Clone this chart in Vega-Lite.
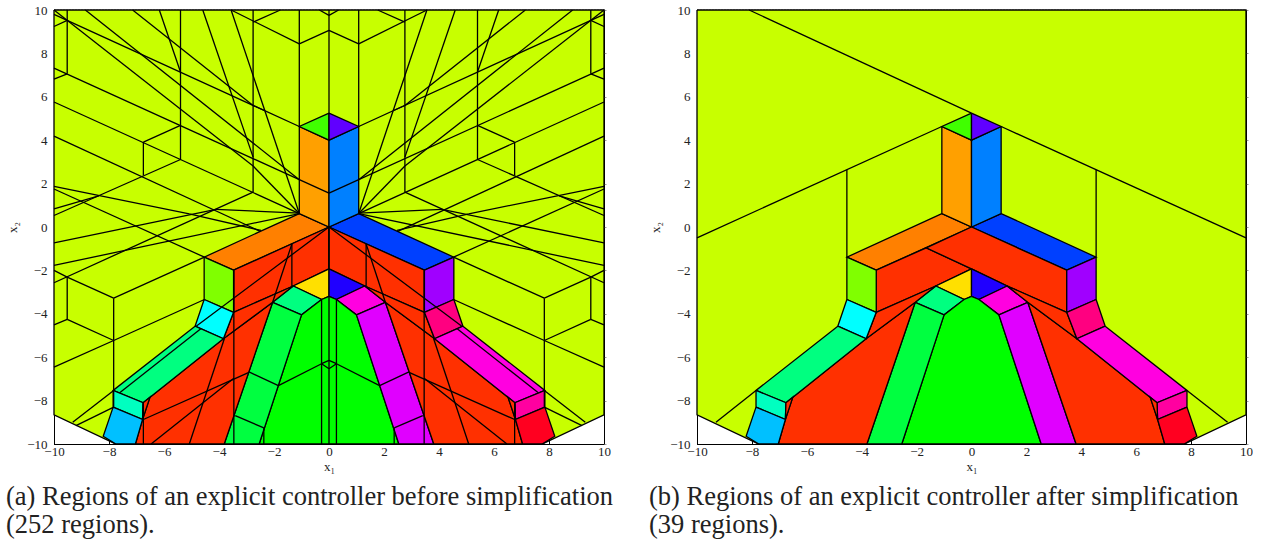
{"$schema":"https://vega.github.io/schema/vega-lite/v6.json","background":"white","padding":{"left":5,"top":3,"right":0,"bottom":0},"spacing":34,
"datasets":{"polys":[
{"p":"ab","r":"bg","i":0,"x":-10,"y":10},{"p":"ab","r":"bg","i":1,"x":10,"y":10},{"p":"ab","r":"bg","i":2,"x":10,"y":-8.66},{"p":"ab","r":"bg","i":3,"x":7.75,"y":-10},{"p":"ab","r":"bg","i":4,"x":-7.75,"y":-10},{"p":"ab","r":"bg","i":5,"x":-10,"y":-8.66},{"p":"ab","r":"bg","i":6,"x":-10,"y":10},
{"p":"ab","r":"orangeBar","i":0,"x":-1.08,"y":0.62},{"p":"ab","r":"orangeBar","i":1,"x":-4.54,"y":-1.39},{"p":"ab","r":"orangeBar","i":2,"x":-3.47,"y":-1.99},{"p":"ab","r":"orangeBar","i":3,"x":0,"y":0},{"p":"ab","r":"orangeBar","i":4,"x":-1.08,"y":0.62},
{"p":"ab","r":"blueBar","i":0,"x":1.08,"y":0.62},{"p":"ab","r":"blueBar","i":1,"x":4.54,"y":-1.39},{"p":"ab","r":"blueBar","i":2,"x":3.47,"y":-1.99},{"p":"ab","r":"blueBar","i":3,"x":0,"y":0},{"p":"ab","r":"blueBar","i":4,"x":1.08,"y":0.62},
{"p":"ab","r":"orangeUp","i":0,"x":-1.08,"y":4.63},{"p":"ab","r":"orangeUp","i":1,"x":0,"y":4},{"p":"ab","r":"orangeUp","i":2,"x":0,"y":0},{"p":"ab","r":"orangeUp","i":3,"x":-1.08,"y":0.62},{"p":"ab","r":"orangeUp","i":4,"x":-1.08,"y":4.63},
{"p":"ab","r":"blueUp","i":0,"x":1.08,"y":4.63},{"p":"ab","r":"blueUp","i":1,"x":0,"y":4},{"p":"ab","r":"blueUp","i":2,"x":0,"y":0},{"p":"ab","r":"blueUp","i":3,"x":1.08,"y":0.62},{"p":"ab","r":"blueUp","i":4,"x":1.08,"y":4.63},
{"p":"ab","r":"greenTri","i":0,"x":0,"y":5.25},{"p":"ab","r":"greenTri","i":1,"x":-1.08,"y":4.63},{"p":"ab","r":"greenTri","i":2,"x":0,"y":4},{"p":"ab","r":"greenTri","i":3,"x":0,"y":5.25},
{"p":"ab","r":"violetTri","i":0,"x":0,"y":5.25},{"p":"ab","r":"violetTri","i":1,"x":1.08,"y":4.63},{"p":"ab","r":"violetTri","i":2,"x":0,"y":4},{"p":"ab","r":"violetTri","i":3,"x":0,"y":5.25},
{"p":"a","r":"redLa","i":0,"x":0,"y":0},{"p":"a","r":"redLa","i":1,"x":-3.47,"y":-1.99},{"p":"a","r":"redLa","i":2,"x":-3.47,"y":-3.93},{"p":"a","r":"redLa","i":3,"x":-1.3,"y":-2.72},{"p":"a","r":"redLa","i":4,"x":0,"y":-1.93},{"p":"a","r":"redLa","i":5,"x":0,"y":0},
{"p":"a","r":"redRa","i":0,"x":0,"y":0},{"p":"a","r":"redRa","i":1,"x":3.47,"y":-1.99},{"p":"a","r":"redRa","i":2,"x":3.47,"y":-3.93},{"p":"a","r":"redRa","i":3,"x":1.3,"y":-2.72},{"p":"a","r":"redRa","i":4,"x":0,"y":-1.93},{"p":"a","r":"redRa","i":5,"x":0,"y":0},
{"p":"b","r":"redLb","i":0,"x":-3.47,"y":-1.99},{"p":"b","r":"redLb","i":1,"x":-1.65,"y":-0.96},{"p":"b","r":"redLb","i":2,"x":0,"y":-1.93},{"p":"b","r":"redLb","i":3,"x":-1.3,"y":-2.72},{"p":"b","r":"redLb","i":4,"x":-3.47,"y":-3.93},{"p":"b","r":"redLb","i":5,"x":-3.47,"y":-1.99},
{"p":"b","r":"redRb","i":0,"x":0,"y":0},{"p":"b","r":"redRb","i":1,"x":3.47,"y":-1.99},{"p":"b","r":"redRb","i":2,"x":3.47,"y":-3.93},{"p":"b","r":"redRb","i":3,"x":1.3,"y":-2.72},{"p":"b","r":"redRb","i":4,"x":0,"y":-1.93},{"p":"b","r":"redRb","i":5,"x":-1.65,"y":-0.96},{"p":"b","r":"redRb","i":6,"x":0,"y":0},
{"p":"ab","r":"yellow","i":0,"x":0,"y":-1.93},{"p":"ab","r":"yellow","i":1,"x":0,"y":-3.2},{"p":"ab","r":"yellow","i":2,"x":-0.27,"y":-3.34},{"p":"ab","r":"yellow","i":3,"x":-1.3,"y":-2.72},{"p":"ab","r":"yellow","i":4,"x":0,"y":-1.93},
{"p":"ab","r":"darkBlue","i":0,"x":0,"y":-1.93},{"p":"ab","r":"darkBlue","i":1,"x":0,"y":-3.2},{"p":"ab","r":"darkBlue","i":2,"x":0.27,"y":-3.34},{"p":"ab","r":"darkBlue","i":3,"x":1.3,"y":-2.72},{"p":"ab","r":"darkBlue","i":4,"x":0,"y":-1.93},
{"p":"ab","r":"capL","i":0,"x":-1.3,"y":-2.72},{"p":"ab","r":"capL","i":1,"x":-0.27,"y":-3.34},{"p":"ab","r":"capL","i":2,"x":-1,"y":-4.05},{"p":"ab","r":"capL","i":3,"x":-2.05,"y":-3.47},{"p":"ab","r":"capL","i":4,"x":-1.3,"y":-2.72},
{"p":"ab","r":"capR","i":0,"x":1.3,"y":-2.72},{"p":"ab","r":"capR","i":1,"x":0.27,"y":-3.34},{"p":"ab","r":"capR","i":2,"x":1,"y":-4.05},{"p":"ab","r":"capR","i":3,"x":2.05,"y":-3.47},{"p":"ab","r":"capR","i":4,"x":1.3,"y":-2.72},
{"p":"ab","r":"greenC","i":0,"x":0,"y":-3.2},{"p":"ab","r":"greenC","i":1,"x":-0.27,"y":-3.34},{"p":"ab","r":"greenC","i":2,"x":-1,"y":-4.05},{"p":"ab","r":"greenC","i":3,"x":-2.54,"y":-10},{"p":"ab","r":"greenC","i":4,"x":2.54,"y":-10},{"p":"ab","r":"greenC","i":5,"x":1,"y":-4.05},{"p":"ab","r":"greenC","i":6,"x":0.27,"y":-3.34},{"p":"ab","r":"greenC","i":7,"x":0,"y":-3.2},
{"p":"ab","r":"barG","i":0,"x":-2.05,"y":-3.47},{"p":"ab","r":"barG","i":1,"x":-1,"y":-4.05},{"p":"ab","r":"barG","i":2,"x":-2.54,"y":-10},{"p":"ab","r":"barG","i":3,"x":-3.81,"y":-10},{"p":"ab","r":"barG","i":4,"x":-2.05,"y":-3.47},
{"p":"ab","r":"barP","i":0,"x":2.05,"y":-3.47},{"p":"ab","r":"barP","i":1,"x":1,"y":-4.05},{"p":"ab","r":"barP","i":2,"x":2.54,"y":-10},{"p":"ab","r":"barP","i":3,"x":3.81,"y":-10},{"p":"ab","r":"barP","i":4,"x":2.05,"y":-3.47},
{"p":"ab","r":"redBL","i":0,"x":-2.05,"y":-3.47},{"p":"ab","r":"redBL","i":1,"x":-3.81,"y":-10},{"p":"ab","r":"redBL","i":2,"x":-7.04,"y":-10},{"p":"ab","r":"redBL","i":3,"x":-6.78,"y":-8.87},{"p":"ab","r":"redBL","i":4,"x":-6.51,"y":-7.84},{"p":"ab","r":"redBL","i":5,"x":-3.84,"y":-5.15},{"p":"ab","r":"redBL","i":6,"x":-2.05,"y":-3.47},
{"p":"ab","r":"redBR","i":0,"x":2.05,"y":-3.47},{"p":"ab","r":"redBR","i":1,"x":3.81,"y":-10},{"p":"ab","r":"redBR","i":2,"x":7.04,"y":-10},{"p":"ab","r":"redBR","i":3,"x":6.78,"y":-8.87},{"p":"ab","r":"redBR","i":4,"x":6.51,"y":-7.84},{"p":"ab","r":"redBR","i":5,"x":3.84,"y":-5.15},{"p":"ab","r":"redBR","i":6,"x":2.05,"y":-3.47},
{"p":"ab","r":"redTL","i":0,"x":-3.47,"y":-3.93},{"p":"ab","r":"redTL","i":1,"x":-1.3,"y":-2.72},{"p":"ab","r":"redTL","i":2,"x":-2.05,"y":-3.47},{"p":"ab","r":"redTL","i":3,"x":-3.84,"y":-5.15},{"p":"ab","r":"redTL","i":4,"x":-3.47,"y":-3.93},
{"p":"ab","r":"redTR","i":0,"x":3.47,"y":-3.93},{"p":"ab","r":"redTR","i":1,"x":1.3,"y":-2.72},{"p":"ab","r":"redTR","i":2,"x":2.05,"y":-3.47},{"p":"ab","r":"redTR","i":3,"x":3.84,"y":-5.15},{"p":"ab","r":"redTR","i":4,"x":3.47,"y":-3.93},
{"p":"ab","r":"limeBar","i":0,"x":-4.54,"y":-1.39},{"p":"ab","r":"limeBar","i":1,"x":-3.47,"y":-1.99},{"p":"ab","r":"limeBar","i":2,"x":-3.47,"y":-3.93},{"p":"ab","r":"limeBar","i":3,"x":-4.54,"y":-3.34},{"p":"ab","r":"limeBar","i":4,"x":-4.54,"y":-1.39},
{"p":"ab","r":"purpleBar","i":0,"x":4.54,"y":-1.39},{"p":"ab","r":"purpleBar","i":1,"x":3.47,"y":-1.99},{"p":"ab","r":"purpleBar","i":2,"x":3.47,"y":-3.93},{"p":"ab","r":"purpleBar","i":3,"x":4.54,"y":-3.34},{"p":"ab","r":"purpleBar","i":4,"x":4.54,"y":-1.39},
{"p":"ab","r":"cyan","i":0,"x":-4.54,"y":-3.34},{"p":"ab","r":"cyan","i":1,"x":-3.47,"y":-3.93},{"p":"ab","r":"cyan","i":2,"x":-3.84,"y":-5.15},{"p":"ab","r":"cyan","i":3,"x":-4.87,"y":-4.57},{"p":"ab","r":"cyan","i":4,"x":-4.54,"y":-3.34},
{"p":"ab","r":"pink","i":0,"x":4.54,"y":-3.34},{"p":"ab","r":"pink","i":1,"x":3.47,"y":-3.93},{"p":"ab","r":"pink","i":2,"x":3.84,"y":-5.15},{"p":"ab","r":"pink","i":3,"x":4.87,"y":-4.57},{"p":"ab","r":"pink","i":4,"x":4.54,"y":-3.34},
{"p":"ab","r":"tealBar","i":0,"x":-4.87,"y":-4.57},{"p":"ab","r":"tealBar","i":1,"x":-3.84,"y":-5.15},{"p":"ab","r":"tealBar","i":2,"x":-6.76,"y":-8.1},{"p":"ab","r":"tealBar","i":3,"x":-7.85,"y":-7.53},{"p":"ab","r":"tealBar","i":4,"x":-4.87,"y":-4.57},
{"p":"ab","r":"magBar","i":0,"x":4.87,"y":-4.57},{"p":"ab","r":"magBar","i":1,"x":3.84,"y":-5.15},{"p":"ab","r":"magBar","i":2,"x":6.76,"y":-8.1},{"p":"ab","r":"magBar","i":3,"x":7.85,"y":-7.53},{"p":"ab","r":"magBar","i":4,"x":4.87,"y":-4.57},
{"p":"ab","r":"tealS","i":0,"x":-7.85,"y":-7.53},{"p":"ab","r":"tealS","i":1,"x":-6.76,"y":-8.1},{"p":"ab","r":"tealS","i":2,"x":-6.78,"y":-8.87},{"p":"ab","r":"tealS","i":3,"x":-7.85,"y":-8.3},{"p":"ab","r":"tealS","i":4,"x":-7.85,"y":-7.53},
{"p":"ab","r":"pinkS","i":0,"x":7.85,"y":-7.53},{"p":"ab","r":"pinkS","i":1,"x":6.76,"y":-8.1},{"p":"ab","r":"pinkS","i":2,"x":6.78,"y":-8.87},{"p":"ab","r":"pinkS","i":3,"x":7.85,"y":-8.3},{"p":"ab","r":"pinkS","i":4,"x":7.85,"y":-7.53},
{"p":"ab","r":"sky","i":0,"x":-7.85,"y":-8.3},{"p":"ab","r":"sky","i":1,"x":-6.78,"y":-8.87},{"p":"ab","r":"sky","i":2,"x":-7.04,"y":-10},{"p":"ab","r":"sky","i":3,"x":-7.75,"y":-10},{"p":"ab","r":"sky","i":4,"x":-8.21,"y":-9.64},{"p":"ab","r":"sky","i":5,"x":-7.85,"y":-8.3},
{"p":"ab","r":"redS","i":0,"x":7.85,"y":-8.3},{"p":"ab","r":"redS","i":1,"x":6.78,"y":-8.87},{"p":"ab","r":"redS","i":2,"x":7.04,"y":-10},{"p":"ab","r":"redS","i":3,"x":7.75,"y":-10},{"p":"ab","r":"redS","i":4,"x":8.21,"y":-9.64},{"p":"ab","r":"redS","i":5,"x":7.85,"y":-8.3},
{"p":"ab","r":"sliverL","i":0,"x":-6.76,"y":-8.1},{"p":"ab","r":"sliverL","i":1,"x":-6.51,"y":-7.84},{"p":"ab","r":"sliverL","i":2,"x":-6.78,"y":-8.87},{"p":"ab","r":"sliverL","i":3,"x":-6.76,"y":-8.1},
{"p":"ab","r":"sliverR","i":0,"x":6.76,"y":-8.1},{"p":"ab","r":"sliverR","i":1,"x":6.51,"y":-7.84},{"p":"ab","r":"sliverR","i":2,"x":6.78,"y":-8.87},{"p":"ab","r":"sliverR","i":3,"x":6.76,"y":-8.1}
],
"linesA":[
{"x":0,"y":10,"x2":0,"y2":5.25},{"x":0,"y":0,"x2":0,"y2":-1.93},{"x":0,"y":-3.2,"x2":0,"y2":-10},
{"x":-9.52,"y":10,"x2":-9.52,"y2":7.06},{"x":9.52,"y":10,"x2":9.52,"y2":7.06},
{"x":-5.4,"y":10,"x2":-5.4,"y2":3.11},{"x":5.4,"y":10,"x2":5.4,"y2":3.11},
{"x":-2.76,"y":10,"x2":-2.76,"y2":1.61},{"x":2.76,"y":10,"x2":2.76,"y2":1.61},
{"x":-1.08,"y":10,"x2":-1.08,"y2":4.63},{"x":1.08,"y":10,"x2":1.08,"y2":4.63},
{"x":-6.75,"y":3.91,"x2":-6.75,"y2":2.38},{"x":6.75,"y":3.91,"x2":6.75,"y2":2.38},
{"x":-10,"y":5.76,"x2":-1.08,"y2":0.62},{"x":10,"y":5.76,"x2":1.08,"y2":0.62},
{"x":-10,"y":4.19,"x2":-2.5,"y2":-0.2},{"x":10,"y":4.19,"x2":2.5,"y2":-0.2},
{"x":-10,"y":7.32,"x2":0,"y2":1.56},{"x":10,"y":7.32,"x2":0,"y2":1.56},
{"x":-10,"y":6.81,"x2":-9.52,"y2":7.06},{"x":10,"y":6.81,"x2":9.52,"y2":7.06},
{"x":-6.75,"y":3.91,"x2":-5.4,"y2":4.68},{"x":6.75,"y":3.91,"x2":5.4,"y2":4.68},
{"x":-10,"y":0.53,"x2":-5.4,"y2":3.11},{"x":10,"y":0.53,"x2":5.4,"y2":3.11},
{"x":-10,"y":0.84,"x2":-8.37,"y2":1.44},{"x":10,"y":0.84,"x2":8.37,"y2":1.44},
{"x":-10,"y":-2.57,"x2":-2.76,"y2":1.61},{"x":10,"y":-2.57,"x2":2.76,"y2":1.61},
{"x":-9.52,"y":-2.31,"x2":-7.83,"y2":-3.28},{"x":9.52,"y":-2.31,"x2":7.83,"y2":-3.28},
{"x":-7.83,"y":-3.28,"x2":-4.53,"y2":-1.39},{"x":7.83,"y":-3.28,"x2":4.53,"y2":-1.39},
{"x":-9.52,"y":-2.31,"x2":-9.52,"y2":-4.26},{"x":9.52,"y":-2.31,"x2":9.52,"y2":-4.26},
{"x":-10,"y":-4.51,"x2":-9.52,"y2":-4.26},{"x":10,"y":-4.51,"x2":9.52,"y2":-4.26},
{"x":-9.52,"y":-4.26,"x2":-7.83,"y2":-5.23},{"x":9.52,"y":-4.26,"x2":7.83,"y2":-5.23},
{"x":-7.83,"y":-5.23,"x2":-4.53,"y2":-3.34},{"x":7.83,"y":-5.23,"x2":4.53,"y2":-3.34},
{"x":-10,"y":-6.46,"x2":-7.83,"y2":-5.23},{"x":10,"y":-6.46,"x2":7.83,"y2":-5.23},
{"x":-7.83,"y":-3.28,"x2":-7.83,"y2":-8.3},{"x":7.83,"y":-3.28,"x2":7.83,"y2":-8.3},
{"x":-10,"y":-2,"x2":-9.52,"y2":-2.31},{"x":10,"y":-2,"x2":9.52,"y2":-2.31},
{"x":-10,"y":1.87,"x2":-5.08,"y2":0.61},{"x":10,"y":1.87,"x2":5.08,"y2":0.61},
{"x":-5.08,"y":0.61,"x2":-2.47,"y2":-0.16},{"x":5.08,"y":0.61,"x2":2.47,"y2":-0.16},
{"x":-10,"y":1.75,"x2":-4.53,"y2":-1.39},{"x":10,"y":1.75,"x2":4.53,"y2":-1.39},
{"x":-1.08,"y":0.62,"x2":-10,"y2":-1.77},{"x":1.08,"y":0.62,"x2":10,"y2":-1.77},
{"x":-10,"y":-0.73,"x2":-4.11,"y2":0.81},{"x":10,"y":-0.73,"x2":4.11,"y2":0.81},
{"x":-4.11,"y":0.81,"x2":-1.08,"y2":0.64},{"x":4.11,"y":0.81,"x2":1.08,"y2":0.64},
{"x":-3.56,"y":10,"x2":-1.08,"y2":8.44},{"x":3.56,"y":10,"x2":1.08,"y2":8.44},
{"x":-1.08,"y":8.44,"x2":0,"y2":9.06},{"x":1.08,"y":8.44,"x2":0,"y2":9.06},
{"x":-2.76,"y":9.44,"x2":-1.77,"y2":10},{"x":2.76,"y":9.44,"x2":1.77,"y2":10},
{"x":-0.35,"y":10,"x2":0,"y2":9.75},{"x":0.35,"y":10,"x2":0,"y2":9.75},
{"x":-10,"y":9.8,"x2":-1.08,"y2":4.63},{"x":10,"y":9.8,"x2":1.08,"y2":4.63},
{"x":-10,"y":9.24,"x2":-9.52,"y2":9.52},{"x":10,"y":9.24,"x2":9.52,"y2":9.52},
{"x":-10,"y":10,"x2":-2.76,"y2":2.81},{"x":10,"y":10,"x2":2.76,"y2":2.81},
{"x":-2.76,"y":2.81,"x2":-1.08,"y2":0.62},{"x":2.76,"y":2.81,"x2":1.08,"y2":0.62},
{"x":-8.86,"y":10,"x2":-1.08,"y2":2.18},{"x":8.86,"y":10,"x2":1.08,"y2":2.18},
{"x":-7.14,"y":10,"x2":-2.76,"y2":5.6},{"x":7.14,"y":10,"x2":2.76,"y2":5.6},
{"x":-2.76,"y":5.6,"x2":-2.35,"y2":5.37},{"x":2.76,"y":5.6,"x2":2.35,"y2":5.37},
{"x":-6.17,"y":10,"x2":-5.4,"y2":7.14},{"x":6.17,"y":10,"x2":5.4,"y2":7.14},
{"x":-4.59,"y":10,"x2":-2.76,"y2":3.22},{"x":4.59,"y":10,"x2":2.76,"y2":3.22},
{"x":-3.56,"y":10,"x2":-1.08,"y2":0.62},{"x":3.56,"y":10,"x2":1.08,"y2":0.62},
{"x":-3.46,"y":-1.99,"x2":-3.46,"y2":-10},{"x":3.46,"y":-1.99,"x2":3.46,"y2":-10},
{"x":-1.35,"y":-0.78,"x2":-1.35,"y2":-2.74},{"x":1.35,"y":-0.78,"x2":1.35,"y2":-2.74},
{"x":-4.83,"y":-4.57,"x2":0,"y2":0},{"x":4.83,"y":-4.57,"x2":0,"y2":0},
{"x":-1.35,"y":-0.78,"x2":-2.05,"y2":-3.47},{"x":1.35,"y":-0.78,"x2":2.05,"y2":-3.47},
{"x":-3.8,"y":-5.13,"x2":-5.08,"y2":-10},{"x":3.8,"y":-5.13,"x2":5.08,"y2":-10},
{"x":-6.75,"y":-8.87,"x2":-2.89,"y2":-6.69},{"x":6.75,"y":-8.87,"x2":2.89,"y2":-6.69},
{"x":-3.46,"y":-6.97,"x2":-6.47,"y2":-10},{"x":3.46,"y":-6.97,"x2":6.47,"y2":-10},
{"x":-3.41,"y":-8.69,"x2":-2.37,"y2":-9.26},{"x":3.41,"y":-8.69,"x2":2.37,"y2":-9.26},
{"x":-2.37,"y":-9.26,"x2":-2.37,"y2":-10},{"x":2.37,"y":-9.26,"x2":2.37,"y2":-10},
{"x":-2.89,"y":-6.69,"x2":-1.84,"y2":-7.31},{"x":2.89,"y":-6.69,"x2":1.84,"y2":-7.31},
{"x":-1.84,"y":-7.31,"x2":-0.27,"y2":-6.3},{"x":1.84,"y":-7.31,"x2":0.27,"y2":-6.3},
{"x":-0.27,"y":-6.3,"x2":0,"y2":-6.15},{"x":0.27,"y":-6.3,"x2":0,"y2":-6.15},
{"x":-0.27,"y":-6.3,"x2":0,"y2":-6.53},{"x":0.27,"y":-6.3,"x2":0,"y2":-6.53},
{"x":-0.27,"y":-3.34,"x2":-0.27,"y2":-10},{"x":0.27,"y":-3.34,"x2":0.27,"y2":-10},
{"x":-6.75,"y":-8.1,"x2":-6.75,"y2":-10},{"x":6.75,"y":-8.1,"x2":6.75,"y2":-10},
{"x":-7.83,"y":-7.53,"x2":-9.32,"y2":-9},{"x":7.83,"y":-7.53,"x2":9.32,"y2":-9},
{"x":-7.83,"y":-8.3,"x2":-9.2,"y2":-9.15},{"x":7.83,"y":-8.3,"x2":9.2,"y2":-9.15},
{"x":-4.65,"y":-4.68,"x2":-7.6,"y2":-7.63},{"x":4.65,"y":-4.68,"x2":7.6,"y2":-7.63}
],
"linesB":[
{"x":-10,"y":-0.5,"x2":-1.08,"y2":4.63},{"x":10,"y":-0.5,"x2":1.08,"y2":4.63},
{"x":-8.1,"y":10,"x2":0,"y2":5.25},
{"x":-4.54,"y":-1.39,"x2":-4.54,"y2":2.64},{"x":4.54,"y":-1.39,"x2":4.54,"y2":2.64},
{"x":-9.31,"y":-9,"x2":-7.85,"y2":-7.53},{"x":9.33,"y":-9,"x2":7.85,"y2":-7.53}
]},
"hconcat":[
{"width":550,"height":434,
"title":{"text":["(a) Regions of an explicit controller before simplification","(252 regions)."],"orient":"bottom","anchor":"start","frame":"group","dx":-48,"offset":11,"font":"Liberation Serif","fontSize":26.5,"fontWeight":"normal","color":"#222","lineHeight":28},
"layer":[
{"data":{"name":"polys"},"transform":[{"filter":"datum.p!='b'"}],
"mark":{"type":"line","stroke":"#000","strokeWidth":1.3},
"encoding":{
"x":{"field":"x","type":"quantitative","scale":{"domain":[-10,10],"nice":false},"axis":{"values":[-10,-8,-6,-4,-2,0,2,4,6,8,10],"title":"x₁","grid":false,"tickSize":-4,"tickColor":"#000","domainColor":"#000","labelFlush":false,"labelFont":"Liberation Serif","labelFontSize":13,"labelColor":"#222","titleFont":"Liberation Serif","titleFontSize":13,"titleFontWeight":"normal","titleColor":"#222","labelPadding":5,"titlePadding":2}},
"y":{"field":"y","type":"quantitative","scale":{"domain":[-10,10],"nice":false},"axis":{"values":[-10,-8,-6,-4,-2,0,2,4,6,8,10],"title":"x₂","grid":false,"tickSize":-4,"tickColor":"#000","domainColor":"#000","labelFlush":false,"labelFont":"Liberation Serif","labelFontSize":13,"labelColor":"#222","titleFont":"Liberation Serif","titleFontSize":13,"titleFontWeight":"normal","titleColor":"#222","labelPadding":11,"titlePadding":7}},
"order":{"field":"i","type":"quantitative"},
"fill":{"field":"r","type":"nominal","legend":null,"scale":{"domain":["bg","orangeBar","blueBar","orangeUp","blueUp","greenTri","violetTri","redLa","redRa","redLb","redRb","yellow","darkBlue","capL","capR","greenC","barG","barP","redBL","redBR","redTL","redTR","limeBar","purpleBar","cyan","pink","tealBar","magBar","tealS","pinkS","sky","redS","sliverL","sliverR"],"range":["#c8ff00","#ff8000","#0040ff","#ffa000","#0080ff","#40ff00","#6000ff","#ff3000","#ff3000","#ff3000","#ff3000","#ffe000","#2000ff","#00ff80","#ff00e0","#00ff00","#00ff40","#e000ff","#ff3000","#ff3000","#ff3000","#ff3000","#80ff00","#a000ff","#00ffff","#ff0080","#00ff80","#ff00e0","#00ffc0","#ff00a0","#00c0ff","#ff0020","#ff3000","#ff3000"]}}
}},
{"data":{"name":"linesA"},"mark":{"type":"rule","stroke":"#000","strokeWidth":1.3},
"encoding":{"x":{"field":"x","type":"quantitative","axis":{"orient":"top","labels":false,"ticks":false,"title":null,"grid":false,"domainColor":"#999","domainDash":[1,2],"offset":1}},"y":{"field":"y","type":"quantitative","axis":{"orient":"right","labels":false,"title":null,"grid":false,"domain":false,"values":[-10,-8,-6,-4,-2,0,2,4,6,8,10],"tickSize":2,"tickColor":"#999"}},"x2":{"field":"x2"},"y2":{"field":"y2"}}}
],
"resolve":{"axis":{"x":"independent","y":"independent"}}},
{"width":549,"height":434,
"title":{"text":["(b) Regions of an explicit controller after simplification","(39 regions)."],"orient":"bottom","anchor":"start","frame":"group","dx":-48,"offset":11,"font":"Liberation Serif","fontSize":26.5,"fontWeight":"normal","color":"#222","lineHeight":28},
"layer":[
{"data":{"name":"polys"},"transform":[{"filter":"datum.p!='a'"}],
"mark":{"type":"line","stroke":"#000","strokeWidth":1.3},
"encoding":{
"x":{"field":"x","type":"quantitative","scale":{"domain":[-10,10],"nice":false},"axis":{"values":[-10,-8,-6,-4,-2,0,2,4,6,8,10],"title":"x₁","grid":false,"tickSize":-4,"tickColor":"#000","domainColor":"#000","labelFlush":false,"labelFont":"Liberation Serif","labelFontSize":13,"labelColor":"#222","titleFont":"Liberation Serif","titleFontSize":13,"titleFontWeight":"normal","titleColor":"#222","labelPadding":5,"titlePadding":2}},
"y":{"field":"y","type":"quantitative","scale":{"domain":[-10,10],"nice":false},"axis":{"values":[-10,-8,-6,-4,-2,0,2,4,6,8,10],"title":"x₂","grid":false,"tickSize":-4,"tickColor":"#000","domainColor":"#000","labelFlush":false,"labelFont":"Liberation Serif","labelFontSize":13,"labelColor":"#222","titleFont":"Liberation Serif","titleFontSize":13,"titleFontWeight":"normal","titleColor":"#222","labelPadding":11,"titlePadding":7}},
"order":{"field":"i","type":"quantitative"},
"fill":{"field":"r","type":"nominal","legend":null,"scale":{"domain":["bg","orangeBar","blueBar","orangeUp","blueUp","greenTri","violetTri","redLa","redRa","redLb","redRb","yellow","darkBlue","capL","capR","greenC","barG","barP","redBL","redBR","redTL","redTR","limeBar","purpleBar","cyan","pink","tealBar","magBar","tealS","pinkS","sky","redS","sliverL","sliverR"],"range":["#c8ff00","#ff8000","#0040ff","#ffa000","#0080ff","#40ff00","#6000ff","#ff3000","#ff3000","#ff3000","#ff3000","#ffe000","#2000ff","#00ff80","#ff00e0","#00ff00","#00ff40","#e000ff","#ff3000","#ff3000","#ff3000","#ff3000","#80ff00","#a000ff","#00ffff","#ff0080","#00ff80","#ff00e0","#00ffc0","#ff00a0","#00c0ff","#ff0020","#ff3000","#ff3000"]}}
}},
{"data":{"name":"linesB"},"mark":{"type":"rule","stroke":"#000","strokeWidth":1.3},
"encoding":{"x":{"field":"x","type":"quantitative","axis":{"orient":"top","labels":false,"ticks":false,"title":null,"grid":false,"domainColor":"#999","domainDash":[1,2],"offset":1}},"y":{"field":"y","type":"quantitative","axis":{"orient":"right","labels":false,"title":null,"grid":false,"domain":false,"values":[-10,-8,-6,-4,-2,0,2,4,6,8,10],"tickSize":2,"tickColor":"#999"}},"x2":{"field":"x2"},"y2":{"field":"y2"}}}
],
"resolve":{"axis":{"x":"independent","y":"independent"}}}
],
"resolve":{"scale":{"fill":"independent"}},
"config":{"view":{"stroke":"#000","strokeWidth":1}}}
